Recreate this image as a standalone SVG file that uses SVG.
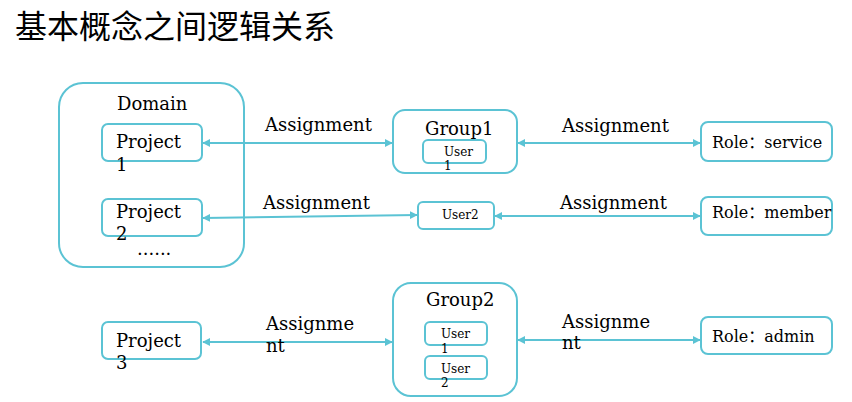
<svg xmlns="http://www.w3.org/2000/svg" width="852" height="402" viewBox="0 0 852 402">
<defs>
<style>
.box{fill:#fff;stroke:#5BC3D4;stroke-width:2}
.ln{stroke:#5BC3D4;stroke-width:2;fill:none;marker-start:url(#a);marker-end:url(#a)}
.t{font-family:"DejaVu Serif","Liberation Serif",serif;font-size:18px;fill:#000}
.s{font-family:"DejaVu Serif","Liberation Serif",serif;font-size:12px;fill:#000}
.r{font-family:"DejaVu Serif","Noto Sans CJK SC",serif;font-size:16px;fill:#000}
.title{font-family:"Noto Sans CJK SC","Noto Sans",sans-serif;font-size:32px;fill:#000}
</style>
<marker id="a" viewBox="0 0 10 10" refX="9" refY="5" markerWidth="4" markerHeight="4" orient="auto-start-reverse" markerUnits="strokeWidth">
<path d="M0,0 L10,5 L0,10 z" fill="#5BC3D4"/>
</marker>
</defs>
<rect width="852" height="402" fill="#fff"/>
<text class="title" x="15" y="38">基本概念之间逻辑关系</text>

<g id="domain">
<rect class="box" x="59" y="83" width="185" height="184" rx="24"/>
<text class="t" x="117" y="110">Domain</text>
<text class="t" x="137" y="255">......</text>
</g>
<g id="project1">
<rect class="box" x="102" y="124" width="100" height="37" rx="6"/>
<text class="t" x="116" y="148">Project</text>
<text class="t" x="116" y="171">1</text>
</g>
<g id="project2">
<rect class="box" x="102" y="199" width="100" height="37" rx="6"/>
<text class="t" x="116" y="218">Project</text>
<text class="t" x="116" y="240">2</text>
</g>
<g id="project3">
<rect class="box" x="102" y="322" width="99" height="37" rx="6"/>
<text class="t" x="116" y="347">Project</text>
<text class="t" x="116" y="369">3</text>
</g>

<g id="group1">
<rect class="box" x="393" y="110" width="124" height="63" rx="12"/>
<text class="t" x="425" y="135">Group1</text>
<rect class="box" x="423" y="140" width="63" height="23" rx="5"/>
<text class="s" x="444" y="156">User</text>
<text class="s" x="444" y="170">1</text>
</g>
<g id="user2">
<rect class="box" x="418" y="202" width="76" height="27" rx="5"/>
<text class="s" x="442" y="219">User2</text>
</g>
<g id="group2">
<rect class="box" x="393" y="283" width="124" height="113" rx="18"/>
<text class="t" x="426" y="306">Group2</text>
<rect class="box" x="425" y="322" width="62" height="23" rx="5"/>
<text class="s" x="441" y="338">User</text>
<text class="s" x="441" y="353">1</text>
<rect class="box" x="425" y="356" width="62" height="23" rx="5"/>
<text class="s" x="441" y="373">User</text>
<text class="s" x="441" y="387">2</text>
</g>

<g id="role-service">
<rect class="box" x="701" y="122" width="131" height="39" rx="7"/>
<text class="r" x="712" y="148">Role：service</text>
</g>
<g id="role-member">
<rect class="box" x="701" y="197" width="131" height="38" rx="7"/>
<text class="r" x="712" y="218">Role：member</text>
</g>
<g id="role-admin">
<rect class="box" x="701" y="317" width="131" height="37" rx="7"/>
<text class="r" x="712" y="342">Role：admin</text>
</g>

<g id="connectors">
<line class="ln" x1="203" y1="143" x2="392" y2="143"/>
<line class="ln" x1="203" y1="218" x2="417" y2="215"/>
<line class="ln" x1="203" y1="342" x2="392" y2="342"/>
<line class="ln" x1="518" y1="143" x2="700" y2="143"/>
<line class="ln" x1="495" y1="216" x2="700" y2="216"/>
<line class="ln" x1="518" y1="340" x2="700" y2="340"/>
<text class="t" x="265" y="131">Assignment</text>
<text class="t" x="263" y="209">Assignment</text>
<text class="t" x="266" y="330">Assignme</text>
<text class="t" x="266" y="352">nt</text>
<text class="t" x="562" y="132">Assignment</text>
<text class="t" x="560" y="209">Assignment</text>
<text class="t" x="562" y="328">Assignme</text>
<text class="t" x="562" y="349">nt</text>
</g>
</svg>
